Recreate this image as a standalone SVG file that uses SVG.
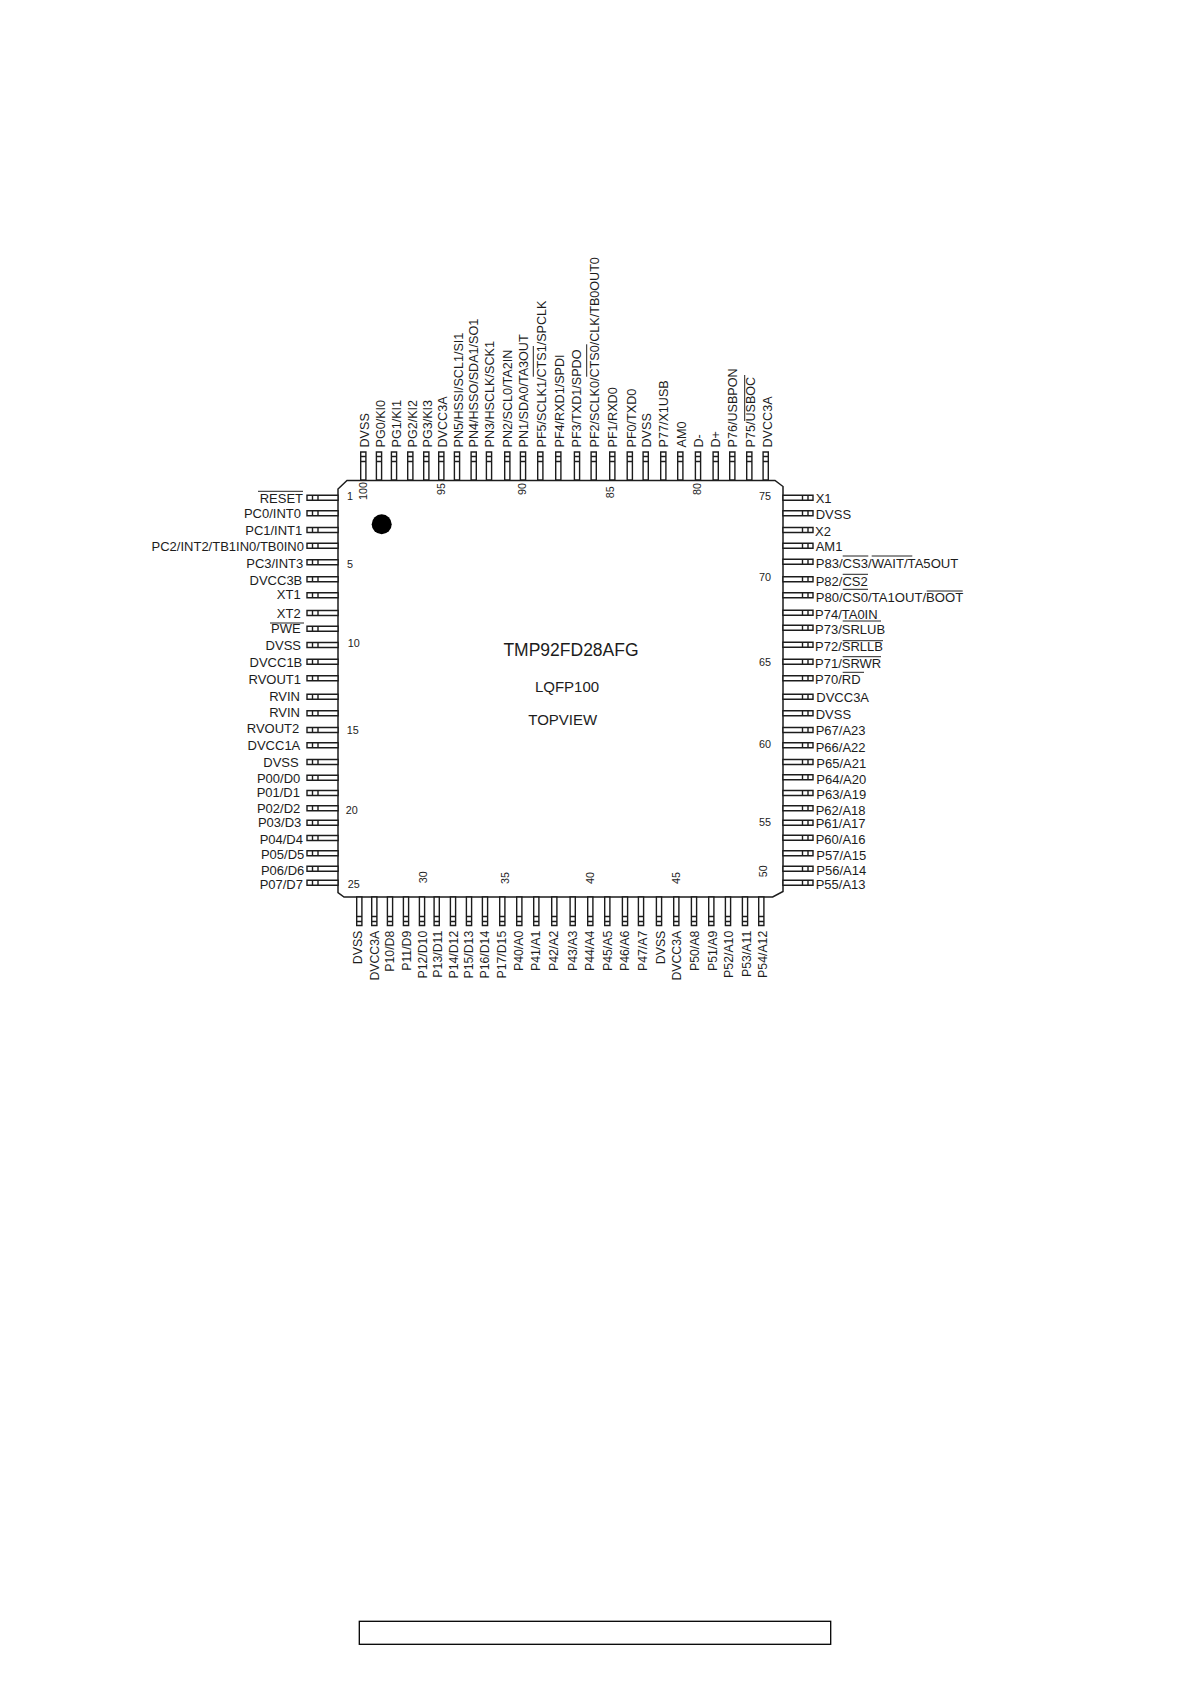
<svg xmlns="http://www.w3.org/2000/svg" width="1190" height="1684" viewBox="0 0 1190 1684">
<style>
text{font-family:"Liberation Sans",Arial,sans-serif;fill:#1c1c1c}
.l{font-size:13px}
.w{font-size:13.1px}
.tp{font-size:12.6px}
.bt{font-size:12.3px;text-anchor:end}
.e{text-anchor:end}
.n{font-size:10.8px}
.t{font-size:15px;text-anchor:middle}
.o{stroke:#222;stroke-width:1;fill:none}
.p{stroke:#1c1c1c;stroke-width:1.4;fill:#fff}
</style>
<defs>
<path id="pl" class="p" d="M0-2.5H31V2.5H0ZM5.500-2.500V2.500M11-2.500V2.500"/>
<path id="pr" class="p" d="M0-2.500H30V2.500H0ZM19.500-2.500V2.500M25-2.500V2.500"/>
<path id="pt" class="p" d="M-2.600 0H2.600V28H-2.600ZM-2.600 4.500H2.600M-2.600 9.500H2.600"/>
<path id="pb" class="p" d="M-2.600 0H2.600V28.500H-2.600ZM-2.600 19.500H2.600M-2.600 24.500H2.600"/>
</defs>
<rect width="1190" height="1684" fill="#fff"/>
<g id="connectors"></g>
<g id="chip"><path d="M347 480.500H775L783 486.500V891.500L772.700 897H344L338 892.700V489Z" fill="#fff" stroke="#1c1c1c" stroke-width="1.500"/><circle cx="381.700" cy="524.300" r="10" fill="#000"/><text x="571" y="656" font-size="17.500" text-anchor="middle">TMP92FD28AFG</text><text class="t" x="567" y="691.700">LQFP100</text><text class="t" x="562.700" y="725">TOPVIEW</text></g>
<g id="pin-1"><use href="#pl" x="307" y="497.700"/><text class="l e" x="303" y="502.700">RESET</text><path class="o" d="M258 491.300H303"/></g>
<g id="pin-2"><use href="#pl" x="307" y="513.300"/><text class="l e" x="301" y="518">PC0/INT0</text></g>
<g id="pin-3"><use href="#pl" x="307" y="530"/><text class="l e" x="302.300" y="535.300">PC1/INT1</text></g>
<g id="pin-4"><use href="#pl" x="307" y="545.700"/><text class="l e" x="304" y="551">PC2/INT2/TB1IN0/TB0IN0</text></g>
<g id="pin-5"><use href="#pl" x="307" y="562.300"/><text class="l e" x="303.300" y="568">PC3/INT3</text></g>
<g id="pin-6"><use href="#pl" x="307" y="579.300"/><text class="l e" x="302.300" y="585.300">DVCC3B</text></g>
<g id="pin-7"><use href="#pl" x="307" y="595.300"/><text class="l e" x="300.700" y="599">XT1</text></g>
<g id="pin-8"><use href="#pl" x="307" y="613"/><text class="l e" x="300.700" y="618">XT2</text></g>
<g id="pin-9"><use href="#pl" x="307" y="628.700"/><text class="l e" x="300.700" y="633">PWE</text><path class="o" d="M270 623H304"/></g>
<g id="pin-10"><use href="#pl" x="307" y="645"/><text class="l e" x="301" y="650">DVSS</text></g>
<g id="pin-11"><use href="#pl" x="307" y="661.700"/><text class="l e" x="302.300" y="667.300">DVCC1B</text></g>
<g id="pin-12"><use href="#pl" x="307" y="678.300"/><text class="l e" x="301" y="683.700">RVOUT1</text></g>
<g id="pin-13"><use href="#pl" x="307" y="696.700"/><text class="l e" x="300" y="701">RVIN</text></g>
<g id="pin-14"><use href="#pl" x="307" y="713.300"/><text class="l e" x="300" y="717.300">RVIN</text></g>
<g id="pin-15"><use href="#pl" x="307" y="730"/><text class="l e" x="299.300" y="733.300">RVOUT2</text></g>
<g id="pin-16"><use href="#pl" x="307" y="745.300"/><text class="l e" x="300.300" y="750">DVCC1A</text></g>
<g id="pin-17"><use href="#pl" x="307" y="762"/><text class="l e" x="298.700" y="766.700">DVSS</text></g>
<g id="pin-18"><use href="#pl" x="307" y="777.700"/><text class="l e" x="300.300" y="783.300">P00/D0</text></g>
<g id="pin-19"><use href="#pl" x="307" y="793"/><text class="l e" x="300" y="797.300">P01/D1</text></g>
<g id="pin-20"><use href="#pl" x="307" y="808.300"/><text class="l e" x="300.300" y="813.300">P02/D2</text></g>
<g id="pin-21"><use href="#pl" x="307" y="822.700"/><text class="l e" x="301.300" y="826.700">P03/D3</text></g>
<g id="pin-22"><use href="#pl" x="307" y="838"/><text class="l e" x="303" y="844.300">P04/D4</text></g>
<g id="pin-23"><use href="#pl" x="307" y="853.300"/><text class="l e" x="304.300" y="859.300">P05/D5</text></g>
<g id="pin-24"><use href="#pl" x="307" y="868.700"/><text class="l e" x="304.300" y="874.700">P06/D6</text></g>
<g id="pin-25"><use href="#pl" x="307" y="882.700"/><text class="l e" x="303" y="888.700">P07/D7</text></g>
<g id="pin-26"><use href="#pb" x="359.300" y="897"/><text class="bt" transform="translate(362.300 930.700) rotate(-90)">DVSS</text></g>
<g id="pin-27"><use href="#pb" x="374.300" y="897"/><text class="bt" transform="translate(379 930.700) rotate(-90)">DVCC3A</text></g>
<g id="pin-28"><use href="#pb" x="390" y="897"/><text class="bt" transform="translate(394.300 930.700) rotate(-90)">P10/D8</text></g>
<g id="pin-29"><use href="#pb" x="406" y="897"/><text class="bt" transform="translate(411 930.700) rotate(-90)">P11/D9</text></g>
<g id="pin-30"><use href="#pb" x="422" y="897"/><text class="bt" transform="translate(426.700 930.700) rotate(-90)">P12/D10</text></g>
<g id="pin-31"><use href="#pb" x="436.700" y="897"/><text class="bt" transform="translate(441.700 930.700) rotate(-90)">P13/D11</text></g>
<g id="pin-32"><use href="#pb" x="453" y="897"/><text class="bt" transform="translate(458.300 930.700) rotate(-90)">P14/D12</text></g>
<g id="pin-33"><use href="#pb" x="469" y="897"/><text class="bt" transform="translate(473.300 930.700) rotate(-90)">P15/D13</text></g>
<g id="pin-34"><use href="#pb" x="485" y="897"/><text class="bt" transform="translate(489.300 930.700) rotate(-90)">P16/D14</text></g>
<g id="pin-35"><use href="#pb" x="502.300" y="897"/><text class="bt" transform="translate(505.700 930.700) rotate(-90)">P17/D15</text></g>
<g id="pin-36"><use href="#pb" x="519.300" y="897"/><text class="bt" transform="translate(523.300 930.700) rotate(-90)">P40/A0</text></g>
<g id="pin-37"><use href="#pb" x="536.300" y="897"/><text class="bt" transform="translate(540 930.700) rotate(-90)">P41/A1</text></g>
<g id="pin-38"><use href="#pb" x="554.300" y="897"/><text class="bt" transform="translate(558.300 930.700) rotate(-90)">P42/A2</text></g>
<g id="pin-39"><use href="#pb" x="572.700" y="897"/><text class="bt" transform="translate(576.700 930.700) rotate(-90)">P43/A3</text></g>
<g id="pin-40"><use href="#pb" x="590.300" y="897"/><text class="bt" transform="translate(594 930.700) rotate(-90)">P44/A4</text></g>
<g id="pin-41"><use href="#pb" x="607.300" y="897"/><text class="bt" transform="translate(611.700 930.700) rotate(-90)">P45/A5</text></g>
<g id="pin-42"><use href="#pb" x="625" y="897"/><text class="bt" transform="translate(629.300 930.700) rotate(-90)">P46/A6</text></g>
<g id="pin-43"><use href="#pb" x="641" y="897"/><text class="bt" transform="translate(647.300 930.700) rotate(-90)">P47/A7</text></g>
<g id="pin-44"><use href="#pb" x="659" y="897"/><text class="bt" transform="translate(665 930.700) rotate(-90)">DVSS</text></g>
<g id="pin-45"><use href="#pb" x="676.300" y="897"/><text class="bt" transform="translate(681.300 930.700) rotate(-90)">DVCC3A</text></g>
<g id="pin-46"><use href="#pb" x="694" y="897"/><text class="bt" transform="translate(699.300 930.700) rotate(-90)">P50/A8</text></g>
<g id="pin-47"><use href="#pb" x="711.300" y="897"/><text class="bt" transform="translate(717.300 930.700) rotate(-90)">P51/A9</text></g>
<g id="pin-48"><use href="#pb" x="728" y="897"/><text class="bt" transform="translate(733.300 930.700) rotate(-90)">P52/A10</text></g>
<g id="pin-49"><use href="#pb" x="745" y="897"/><text class="bt" transform="translate(750.700 930.700) rotate(-90)">P53/A11</text></g>
<g id="pin-50"><use href="#pb" x="761.300" y="897"/><text class="bt" transform="translate(766.700 930.700) rotate(-90)">P54/A12</text></g>
<g id="pin-51"><use href="#pr" x="783" y="882.700"/><text class="l" x="815.700" y="888.700">P55/A13</text></g>
<g id="pin-52"><use href="#pr" x="783" y="868.700"/><text class="l" x="816.300" y="875">P56/A14</text></g>
<g id="pin-53"><use href="#pr" x="783" y="853.300"/><text class="l" x="816.300" y="859.700">P57/A15</text></g>
<g id="pin-54"><use href="#pr" x="783" y="837.700"/><text class="l" x="815.700" y="843.700">P60/A16</text></g>
<g id="pin-55"><use href="#pr" x="783" y="822.700"/><text class="l" x="815.700" y="828.300">P61/A17</text></g>
<g id="pin-56"><use href="#pr" x="783" y="808.300"/><text class="l" x="815.700" y="814.700">P62/A18</text></g>
<g id="pin-57"><use href="#pr" x="783" y="793"/><text class="l" x="816.300" y="799">P63/A19</text></g>
<g id="pin-58"><use href="#pr" x="783" y="777.300"/><text class="l" x="816.300" y="783.700">P64/A20</text></g>
<g id="pin-59"><use href="#pr" x="783" y="762"/><text class="l" x="816.300" y="768">P65/A21</text></g>
<g id="pin-60"><use href="#pr" x="783" y="745.300"/><text class="l" x="815.700" y="751.700">P66/A22</text></g>
<g id="pin-61"><use href="#pr" x="783" y="730"/><text class="l" x="815.700" y="735">P67/A23</text></g>
<g id="pin-62"><use href="#pr" x="783" y="713.300"/><text class="l" x="815.700" y="719.300">DVSS</text></g>
<g id="pin-63"><use href="#pr" x="783" y="696.700"/><text class="l" x="816.300" y="702">DVCC3A</text></g>
<g id="pin-64"><use href="#pr" x="783" y="678.300"/><text class="l" x="815" y="684.300">P70/RD</text><path class="o" d="M842.700 672.300H864"/></g>
<g id="pin-65"><use href="#pr" x="783" y="661.700"/><text class="l" x="815" y="668">P71/SRWR</text><path class="o" d="M842.700 656.700H881"/></g>
<g id="pin-66"><use href="#pr" x="783" y="644.700"/><text class="l" x="815" y="650.700">P72/SRLLB</text><path class="o" d="M842.700 640.700H883"/></g>
<g id="pin-67"><use href="#pr" x="783" y="627.700"/><text class="l" x="815" y="633.700">P73/SRLUB</text><path class="o" d="M842.700 621H881"/></g>
<g id="pin-68"><use href="#pr" x="783" y="612.700"/><text class="l" x="815" y="618.700">P74/TA0IN</text></g>
<g id="pin-69"><use href="#pr" x="783" y="595.300"/><text class="w" x="815.700" y="601.700">P80/CS0/TA1OUT/BOOT</text><path class="o" d="M842.700 589.300H868M926.700 591H962.700"/></g>
<g id="pin-70"><use href="#pr" x="783" y="579.300"/><text class="l" x="815.700" y="585.700">P82/CS2</text><path class="o" d="M842.700 574.300H868"/></g>
<g id="pin-71"><use href="#pr" x="783" y="561.700"/><text class="w" x="815.700" y="567.700">P83/CS3/WAIT/TA5OUT</text><path class="o" d="M842.700 556H868.300M871.700 556H912.300"/></g>
<g id="pin-72"><use href="#pr" x="783" y="545.700"/><text class="l" x="815.700" y="551">AM1</text></g>
<g id="pin-73"><use href="#pr" x="783" y="530"/><text class="l" x="815" y="535.700">X2</text></g>
<g id="pin-74"><use href="#pr" x="783" y="513.300"/><text class="l" x="815.700" y="519">DVSS</text></g>
<g id="pin-75"><use href="#pr" x="783" y="497.700"/><text class="l" x="815.700" y="503.300">X1</text></g>
<g id="pin-76"><use href="#pt" x="765.700" y="452"/><text class="tp" transform="translate(771.700 447.500) rotate(-90)">DVCC3A</text></g>
<g id="pin-77"><use href="#pt" x="749.300" y="452"/><text class="tp" transform="translate(755 447.500) rotate(-90)">P75/USBOC</text><path class="o" d="M744.700 421V375"/></g>
<g id="pin-78"><use href="#pt" x="732.300" y="452"/><text class="tp" transform="translate(737.300 447.500) rotate(-90)">P76/USBPON</text></g>
<g id="pin-79"><use href="#pt" x="715.700" y="452"/><text class="tp" transform="translate(720 447.500) rotate(-90)">D+</text></g>
<g id="pin-80"><use href="#pt" x="698" y="452"/><text class="tp" transform="translate(702.700 447.500) rotate(-90)">D-</text></g>
<g id="pin-81"><use href="#pt" x="680.300" y="452"/><text class="tp" transform="translate(686 447.500) rotate(-90)">AM0</text></g>
<g id="pin-82"><use href="#pt" x="663.300" y="452"/><text class="tp" transform="translate(668.300 447.500) rotate(-90)">P77/X1USB</text></g>
<g id="pin-83"><use href="#pt" x="645.700" y="452"/><text class="tp" transform="translate(650.700 447.500) rotate(-90)">DVSS</text></g>
<g id="pin-84"><use href="#pt" x="629.800" y="452"/><text class="tp" transform="translate(635.700 447.500) rotate(-90)">PF0/TXD0</text></g>
<g id="pin-85"><use href="#pt" x="612.300" y="452"/><text class="tp" transform="translate(617.300 447.500) rotate(-90)">PF1/RXD0</text></g>
<g id="pin-86"><use href="#pt" x="593.700" y="452"/><text class="tp" transform="translate(599.300 447.500) rotate(-90)">PF2/SCLK0/CTS0/CLK/TB0OUT0</text><path class="o" d="M586.700 376.700V344.300"/></g>
<g id="pin-87"><use href="#pt" x="577" y="452"/><text class="tp" transform="translate(581.300 447.500) rotate(-90)">PF3/TXD1/SPDO</text></g>
<g id="pin-88"><use href="#pt" x="558.300" y="452"/><text class="tp" transform="translate(564 447.500) rotate(-90)">PF4/RXD1/SPDI</text></g>
<g id="pin-89"><use href="#pt" x="540.300" y="452"/><text class="tp" transform="translate(545.700 447.500) rotate(-90)">PF5/SCLK1/CTS1/SPCLK</text><path class="o" d="M533.300 376.700V346"/></g>
<g id="pin-90"><use href="#pt" x="523" y="452"/><text class="tp" transform="translate(528.300 447.500) rotate(-90)">PN1/SDA0/TA3OUT</text></g>
<g id="pin-91"><use href="#pt" x="507.300" y="452"/><text class="tp" transform="translate(511.700 447.500) rotate(-90)">PN2/SCL0/TA2IN</text></g>
<g id="pin-92"><use href="#pt" x="489" y="452"/><text class="tp" transform="translate(494.300 447.500) rotate(-90)">PN3/HSCLK/SCK1</text></g>
<g id="pin-93"><use href="#pt" x="473.700" y="452"/><text class="tp" transform="translate(478.300 447.500) rotate(-90)">PN4/HSSO/SDA1/SO1</text></g>
<g id="pin-94"><use href="#pt" x="457" y="452"/><text class="tp" transform="translate(463.300 447.500) rotate(-90)">PN5/HSSI/SCL1/SI1</text></g>
<g id="pin-95"><use href="#pt" x="441.300" y="452"/><text class="tp" transform="translate(446.700 447.500) rotate(-90)">DVCC3A</text></g>
<g id="pin-96"><use href="#pt" x="426.300" y="452"/><text class="tp" transform="translate(432.300 447.500) rotate(-90)">PG3/KI3</text></g>
<g id="pin-97"><use href="#pt" x="410.300" y="452"/><text class="tp" transform="translate(416.700 447.500) rotate(-90)">PG2/KI2</text></g>
<g id="pin-98"><use href="#pt" x="394" y="452"/><text class="tp" transform="translate(400.700 447.500) rotate(-90)">PG1/KI1</text></g>
<g id="pin-99"><use href="#pt" x="379" y="452"/><text class="tp" transform="translate(385 447.500) rotate(-90)">PG0/KI0</text></g>
<g id="pin-100"><use href="#pt" x="363.300" y="452"/><text class="tp" transform="translate(369 447.500) rotate(-90)">DVSS</text></g>
<g id="pin-numbers">
<text class="n" x="347" y="500">1</text><text class="n" x="347" y="568.300">5</text><text class="n" x="347.700" y="647.300">10</text><text class="n" x="346.700" y="734">15</text><text class="n" x="345.700" y="814">20</text><text class="n" x="347.700" y="887.700">25</text>
<text class="n" transform="translate(427 883.300) rotate(-90)">30</text><text class="n" transform="translate(509 884) rotate(-90)">35</text><text class="n" transform="translate(594 884) rotate(-90)">40</text><text class="n" transform="translate(680 884) rotate(-90)">45</text><text class="n" transform="translate(766.700 877.300) rotate(-90)">50</text>
<text class="n e" x="771" y="826.300">55</text><text class="n e" x="771" y="747.700">60</text><text class="n e" x="771" y="665.700">65</text><text class="n e" x="771" y="581.300">70</text><text class="n e" x="771" y="500">75</text>
<text class="n" transform="translate(701 495) rotate(-90)">80</text><text class="n" transform="translate(614 498.300) rotate(-90)">85</text><text class="n" transform="translate(526 495) rotate(-90)">90</text><text class="n" transform="translate(445 495) rotate(-90)">95</text><text class="n" transform="translate(367.300 500) rotate(-90)">100</text>
</g>
<rect id="title-box" x="359.300" y="1621.300" width="471.400" height="23" fill="none" stroke="#000" stroke-width="1.300"/>
</svg>
